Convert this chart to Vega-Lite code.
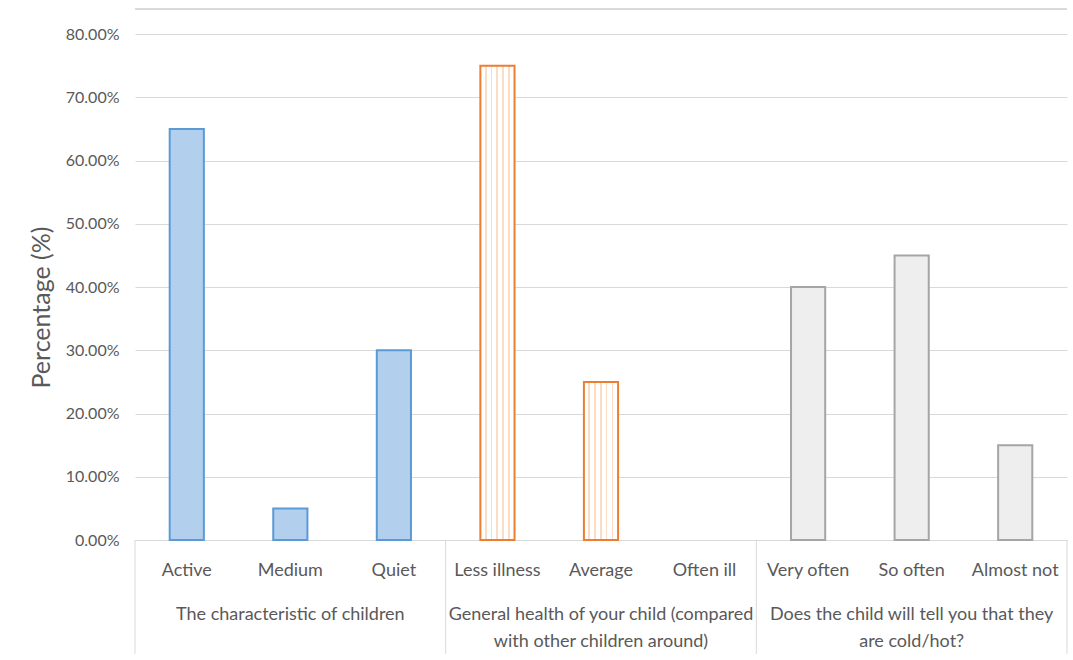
{
  "$schema": "https://vega.github.io/schema/vega-lite/v6.json",
  "width": 932,
  "height": 506,
  "autosize": {"type": "none"},
  "padding": {"left": 135, "top": 34, "right": 6, "bottom": 120},
  "background": "white",
  "config": {"view": {"stroke": null}, "font": "Lato"},
  "data": {
    "values": [
      {"group": "The characteristic of children", "cat": "Active", "value": 0.65},
      {"group": "The characteristic of children", "cat": "Medium", "value": 0.05},
      {"group": "The characteristic of children", "cat": "Quiet", "value": 0.30},
      {"group": "General health of your child (compared\nwith other children around)", "cat": "Less illness", "value": 0.75},
      {"group": "General health of your child (compared\nwith other children around)", "cat": "Average", "value": 0.25},
      {"group": "General health of your child (compared\nwith other children around)", "cat": "Often ill", "value": 0.0},
      {"group": "Does the child will tell you that they\nare cold/hot?", "cat": "Very often", "value": 0.40},
      {"group": "Does the child will tell you that they\nare cold/hot?", "cat": "So often", "value": 0.45},
      {"group": "Does the child will tell you that they\nare cold/hot?", "cat": "Almost not", "value": 0.15}
    ]
  },
  "layer": [
    {
      "mark": {"type": "bar", "width": {"band": 0.33}, "strokeWidth": 2},
      "encoding": {
        "x": {
          "field": "cat", "type": "nominal", "sort": null,
          "scale": {"paddingInner": 0, "paddingOuter": 0},
          "axis": {
            "title": null, "ticks": false, "labelAngle": 0, "labelPadding": 21,
            "labelFontSize": 18, "labelColor": "#595959", "domainColor": "#d9d9d9", "domainWidth": 1
          }
        },
        "y": {
          "field": "value", "type": "quantitative",
          "scale": {"domain": [0, 0.8], "nice": false},
          "axis": {
            "values": [0, 0.1, 0.2, 0.3, 0.4, 0.5, 0.6, 0.7, 0.8],
            "format": ".2%", "grid": true, "gridColor": "#d9d9d9", "domain": false, "ticks": false,
            "labelFontSize": 16, "labelColor": "#595959", "labelPadding": 16,
            "title": "Percentage (%)", "titleFontSize": 25, "titleFontWeight": "normal",
            "titleColor": "#595959", "titlePadding": 11, "titleY": 273
          }
        },
        "fill": {
          "condition": [
            {"test": "indexof(datum.group, 'The characteristic') == 0", "value": "#b3cfee"},
            {"test": "indexof(datum.group, 'General') == 0", "value": {
              "gradient": "linear", "x1": 0, "y1": 0, "x2": 1, "y2": 0,
              "stops": [
                {"offset": 0.0, "color": "#ffffff"},
                {"offset": 0.13, "color": "#ffffff"}, {"offset": 0.13, "color": "#fbdcc5"}, {"offset": 0.18, "color": "#fbdcc5"}, {"offset": 0.18, "color": "#ffffff"},
                {"offset": 0.30, "color": "#ffffff"}, {"offset": 0.30, "color": "#fbdcc5"}, {"offset": 0.35, "color": "#fbdcc5"}, {"offset": 0.35, "color": "#ffffff"},
                {"offset": 0.47, "color": "#ffffff"}, {"offset": 0.47, "color": "#fbdcc5"}, {"offset": 0.52, "color": "#fbdcc5"}, {"offset": 0.52, "color": "#ffffff"},
                {"offset": 0.64, "color": "#ffffff"}, {"offset": 0.64, "color": "#fbdcc5"}, {"offset": 0.69, "color": "#fbdcc5"}, {"offset": 0.69, "color": "#ffffff"},
                {"offset": 0.81, "color": "#ffffff"}, {"offset": 0.81, "color": "#fbdcc5"}, {"offset": 0.86, "color": "#fbdcc5"}, {"offset": 0.86, "color": "#ffffff"},
                {"offset": 1.0, "color": "#ffffff"}
              ]
            }}
          ],
          "value": "#eeeeee"
        },
        "stroke": {
          "condition": [
            {"test": "indexof(datum.group, 'The characteristic') == 0", "value": "#5b9bd5"},
            {"test": "indexof(datum.group, 'General') == 0", "value": "#ed7d31"}
          ],
          "value": "#a5a5a5"
        },
        "strokeOpacity": {"condition": {"test": "datum.value > 0", "value": 1}, "value": 0}
      }
    },
    {
      "transform": [{"filter": "datum.cat == 'Active' || datum.cat == 'Less illness' || datum.cat == 'Very often'"}],
      "mark": {"type": "rule", "color": "#d9d9d9", "strokeWidth": 1},
      "encoding": {
        "x": {"field": "cat", "type": "nominal", "sort": null, "bandPosition": 0},
        "y": {"datum": 0},
        "y2": {"datum": -0.18}
      }
    },
    {
      "transform": [{"filter": "datum.cat == 'Almost not'"}],
      "mark": {"type": "rule", "color": "#d9d9d9", "strokeWidth": 1},
      "encoding": {
        "x": {"field": "cat", "type": "nominal", "sort": null, "bandPosition": 1},
        "y": {"datum": 0},
        "y2": {"datum": -0.18}
      }
    },
    {
      "mark": {"type": "rule", "color": "#d9d9d9", "strokeWidth": 1, "clip": false},
      "encoding": {
        "y": {"datum": 0.8395}
      }
    },
    {
      "transform": [{"filter": "datum.cat == 'Medium' || datum.cat == 'Average' || datum.cat == 'So often'"}],
      "mark": {"type": "text", "baseline": "top", "align": "center", "dy": 66, "lineHeight": 27, "lineBreak": "\n", "fontSize": 18, "color": "#595959"},
      "encoding": {
        "x": {"field": "cat", "type": "nominal", "sort": null},
        "y": {"datum": 0},
        "text": {"field": "group"}
      }
    }
  ]
}
